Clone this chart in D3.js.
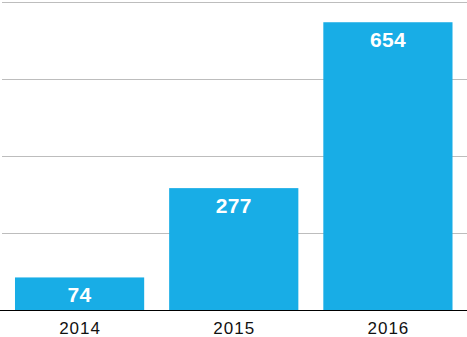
<!DOCTYPE html>
<html>
<head>
<meta charset="utf-8">
<script src="https://cdn.jsdelivr.net/npm/d3@7"></script>
<style>
  body { margin: 0; background: #fff; }
  svg { display: block; font-family: "Liberation Sans", Arial, Helvetica, sans-serif; }
</style>
</head>
<body>
<div id="chart"></div>
<script>
var years = ["2014", "2015", "2016"];
var values = [74, 277, 654];
var gridTicks = [175, 350, 525, 700];

var width = 467, height = 337;
var baseY = 310, topY = 2;

var svg = d3.select("#chart").append("svg")
  .attr("width", width)
  .attr("height", height);

var x = d3.scaleBand()
  .domain(years)
  .range([2.5, 465])
  .paddingInner(0.162)
  .paddingOuter(0.081);

var y = d3.scaleLinear()
  .domain([0, 700])
  .range([baseY, topY]);

// gridlines
svg.append("g")
  .selectAll("line")
  .data(gridTicks)
  .enter().append("line")
  .attr("x1", 2)
  .attr("x2", width)
  .attr("y1", function(d){ return Math.round(y(d)) + 0.5; })
  .attr("y2", function(d){ return Math.round(y(d)) + 0.5; })
  .attr("stroke", "#bdbdbd")
  .attr("stroke-width", 1);

// bars
svg.append("g")
  .selectAll("rect")
  .data(values)
  .enter().append("rect")
  .attr("x", function(d, i){ return x(years[i]); })
  .attr("y", function(d){ return y(d); })
  .attr("width", x.bandwidth())
  .attr("height", function(d){ return baseY - y(d); })
  .attr("fill", "#18ade6");

// value labels
svg.append("g")
  .selectAll("text")
  .data(values)
  .enter().append("text")
  .attr("x", function(d, i){ return x(years[i]) + x.bandwidth() / 2; })
  .attr("y", function(d){ return y(d) + 25; })
  .attr("text-anchor", "middle")
  .attr("fill", "#fff")
  .attr("font-weight", "bold")
  .attr("font-size", "21px")
  .attr("letter-spacing", "0.3px")
  .text(function(d){ return d; });

// baseline
svg.append("line")
  .attr("x1", 0)
  .attr("x2", width)
  .attr("y1", baseY + 0.5)
  .attr("y2", baseY + 0.5)
  .attr("stroke", "#000")
  .attr("stroke-width", 1);

// category labels
svg.append("g")
  .selectAll("text")
  .data(years)
  .enter().append("text")
  .attr("x", function(d){ return x(d) + x.bandwidth() / 2; })
  .attr("dx", "0.5px")
  .attr("y", 334)
  .attr("text-anchor", "middle")
  .attr("fill", "#111")
  .attr("font-size", "17px")
  .attr("letter-spacing", "1px")
  .text(function(d){ return d; });
</script>
</body>
</html>
